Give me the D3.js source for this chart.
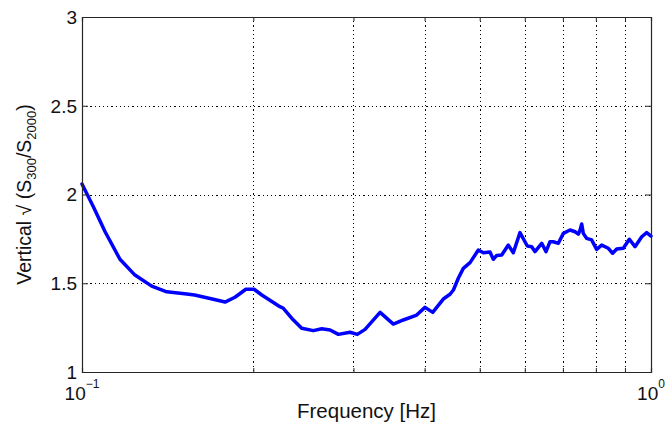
<!DOCTYPE html>
<html>
<head>
<meta charset="utf-8">
<script src="https://cdn.jsdelivr.net/npm/d3@7"></script>
<style>
  html, body { margin: 0; padding: 0; background: #fff; }
  svg { display: block; font-family: "Liberation Sans", Arial, Helvetica, sans-serif; }
</style>
</head>
<body>
<svg id="chart" width="665" height="423"></svg>
<script>
// Spectral ratio curve: frequency (Hz) and sqrt(S300/S2000)
const freq = [
  0.1, 0.1047, 0.1098, 0.1166, 0.1239, 0.1326, 0.1409, 0.1528, 0.1577, 0.1701,
  0.1784, 0.1857, 0.1941, 0.2006, 0.207, 0.2228, 0.2259, 0.2336, 0.2433, 0.255,
  0.2638, 0.2729, 0.2822, 0.2958, 0.3047, 0.3144, 0.3341, 0.3525, 0.367, 0.3874,
  0.4007, 0.4134, 0.4315, 0.4434, 0.4495, 0.4585, 0.4679, 0.4808, 0.4972, 0.5074,
  0.5212, 0.5283, 0.5356, 0.5466, 0.5614, 0.5728, 0.5885, 0.6062, 0.6171, 0.6253,
  0.6426, 0.6539, 0.6645, 0.6735, 0.6873, 0.7014, 0.7206, 0.7354, 0.7453, 0.7505,
  0.7555, 0.7603, 0.7706, 0.7864, 0.8025, 0.8189, 0.8414, 0.8562, 0.8705, 0.894,
  0.9161, 0.9374, 0.9632, 0.9827, 1.0
];
const ratio = [
  2.059, 1.931, 1.79, 1.635, 1.546, 1.484, 1.452, 1.439, 1.434, 1.41,
  1.394, 1.421, 1.466, 1.466, 1.434, 1.368, 1.359, 1.303, 1.246, 1.233,
  1.244, 1.237, 1.212, 1.224, 1.212, 1.24, 1.336, 1.27, 1.293, 1.321,
  1.364, 1.336, 1.411, 1.438, 1.462, 1.528, 1.584, 1.616, 1.687, 1.672,
  1.676, 1.635, 1.657, 1.659, 1.715, 1.672, 1.785, 1.71, 1.706, 1.678,
  1.725, 1.678, 1.734, 1.734, 1.725, 1.781, 1.8, 1.79, 1.777, 1.8,
  1.834, 1.781, 1.753, 1.744, 1.691, 1.715, 1.697, 1.669, 1.693, 1.697,
  1.748, 1.706, 1.762, 1.785, 1.766
];

const yTicks = [1, 1.5, 2, 2.5, 3];
const yTickLabels = ["1", "1.5", "2", "2.5", "3"];
const xGridValues = [0.2, 0.3, 0.4, 0.5, 0.6, 0.7, 0.8, 0.9];
const xMajor = [0.1, 1];
const xMajorExp = ["\u22121", "0"];

const svg = d3.select("#chart");
const m = { left: 82, right: 651, top: 17, bottom: 372 };

const x = d3.scaleLog().domain([0.1, 1]).range([m.left, m.right]);
const y = d3.scaleLinear().domain([1, 3]).range([m.bottom, m.top]);

const axisColor = "#262626";

// dotted grid
const grid = svg.append("g").attr("stroke", "#000").attr("stroke-width", 1)
  .attr("stroke-dasharray", "1.2,3").attr("shape-rendering", "crispEdges");
grid.selectAll("line.vg").data(xGridValues).join("line")
  .attr("x1", d => Math.round(x(d)) + 0.5).attr("x2", d => Math.round(x(d)) + 0.5)
  .attr("y1", m.top).attr("y2", m.bottom);
grid.selectAll("line.hg").data(yTicks.slice(1, -1)).join("line")
  .attr("y1", d => Math.round(y(d)) + 0.5).attr("y2", d => Math.round(y(d)) + 0.5)
  .attr("x1", m.left).attr("x2", m.right);

// data line
const line = d3.line().x((d, i) => x(freq[i])).y(d => y(d));
svg.append("path").datum(ratio)
  .attr("fill", "none").attr("stroke", "#0000ff").attr("stroke-width", 3.5)
  .attr("stroke-linejoin", "round").attr("stroke-linecap", "round")
  .attr("d", line);

// axes (box with inward ticks)
const gBottom = svg.append("g").attr("transform", `translate(0,${m.bottom})`)
  .call(d3.axisBottom(x).tickValues(xGridValues).tickSize(-4).tickFormat(""));
const gTop = svg.append("g").attr("transform", `translate(0,${m.top})`)
  .call(d3.axisTop(x).tickValues(xGridValues).tickSize(-4).tickFormat(""));
const gLeft = svg.append("g").attr("transform", `translate(${m.left},0)`)
  .call(d3.axisLeft(y).tickValues(yTicks).tickSize(-6).tickFormat(""));
const gRight = svg.append("g").attr("transform", `translate(${m.right},0)`)
  .call(d3.axisRight(y).tickValues(yTicks).tickSize(-6).tickFormat(""));
[gBottom, gTop, gLeft, gRight].forEach(g => {
  g.selectAll("path.domain").attr("stroke", axisColor).attr("stroke-width", 1.2);
  g.selectAll(".tick line").attr("stroke", axisColor);
});

// y tick labels
svg.append("g").selectAll("text").data(yTicks).join("text")
  .attr("x", 77).attr("y", d => y(d)).attr("dy", "0.36em")
  .attr("text-anchor", "end").attr("font-size", 19).attr("fill", "#111")
  .text((d, i) => yTickLabels[i]);

// x tick labels: powers of ten
const xl = svg.append("g").selectAll("text").data(xMajor).join("text")
  .attr("x", d => x(d)).attr("y", 400)
  .attr("text-anchor", "middle").attr("font-size", 19).attr("fill", "#111");
xl.append("tspan").text("10");
xl.append("tspan").attr("font-size", 12).attr("dy", -12).text((d, i) => xMajorExp[i]);

// x axis title
svg.append("text").attr("x", (m.left + m.right) / 2).attr("y", 418)
  .attr("text-anchor", "middle").attr("font-size", 20.5).attr("fill", "#111")
  .text("Frequency [Hz]");

// y axis title with subscripts, centred on the axis
const yt = svg.append("text")
  .attr("transform", `translate(31,${(m.top + m.bottom) / 2}) rotate(-90)`)
  .attr("text-anchor", "middle")
  .attr("font-size", 19.5).attr("fill", "#111");
yt.append("tspan").text("Vertical \u221A (S");
yt.append("tspan").attr("font-size", 13).attr("dy", 5).text("300");
yt.append("tspan").attr("dy", -5).text("/S");
yt.append("tspan").attr("font-size", 13).attr("dy", 5).text("2000");
yt.append("tspan").attr("dy", -5).text(")");
</script>
</body>
</html>
